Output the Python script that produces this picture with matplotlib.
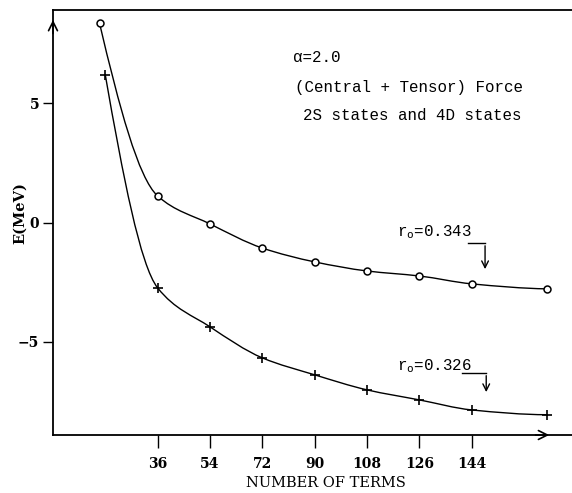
import numpy as np
import matplotlib
matplotlib.use("Agg")
import matplotlib.pyplot as plt
from matplotlib.path import Path
from matplotlib.patches import PathPatch

# data
terms_343 = [16, 36, 54, 72, 90, 108, 126, 144, 170]
energy_343 = [8.35, 1.11, -0.06, -1.07, -1.65, -2.03, -2.24, -2.57, -2.78]
terms_326 = [18, 36, 54, 72, 90, 108, 126, 144, 170]
energy_326 = [6.17, -2.74, -4.37, -5.67, -6.38, -7.01, -7.43, -7.85, -8.05]
xticks = [36, 54, 72, 90, 108, 126, 144]
yticks = [-5, 0, 5]

mono = "Liberation Mono"
serif = "DejaVu Serif"


def smooth_curve(x, y):
    # monotone cubic (pchip-like) drawn as bezier segments through the points
    x = np.asarray(x, float)
    y = np.asarray(y, float)
    h = np.diff(x)
    d = np.diff(y) / h
    n = len(x)
    m = np.zeros(n)
    for k in range(1, n - 1):
        if d[k - 1] * d[k] > 0:
            w1 = 2 * h[k] + h[k - 1]
            w2 = h[k] + 2 * h[k - 1]
            m[k] = (w1 + w2) / (w1 / d[k - 1] + w2 / d[k])
    m[0] = ((2 * h[0] + h[1]) * d[0] - h[0] * d[1]) / (h[0] + h[1])
    if np.sign(m[0]) != np.sign(d[0]):
        m[0] = 0
    m[-1] = ((2 * h[-1] + h[-2]) * d[-1] - h[-1] * d[-2]) / (h[-1] + h[-2])
    if np.sign(m[-1]) != np.sign(d[-1]):
        m[-1] = 0
    verts = [(x[0], y[0])]
    codes = [Path.MOVETO]
    for k in range(n - 1):
        verts += [(x[k] + h[k] / 3, y[k] + m[k] * h[k] / 3),
                  (x[k + 1] - h[k] / 3, y[k + 1] - m[k + 1] * h[k] / 3),
                  (x[k + 1], y[k + 1])]
        codes += [Path.CURVE4] * 3
    return Path(verts, codes)


fig = plt.figure(figsize=(5.72, 4.93), dpi=100)
ax = fig.add_axes([53 / 572, 58 / 493, 519 / 572, 425 / 493])
ax.set_xlim(0, 178.5)
ax.set_ylim(-8.9, 8.9)

ax.add_patch(PathPatch(smooth_curve(terms_343, energy_343), fill=False, lw=1.0, color="black"))
ax.add_patch(PathPatch(smooth_curve(terms_326, energy_326), fill=False, lw=1.0, color="black"))
ax.plot(terms_343, energy_343, linestyle="none", marker="o", ms=5, mfc="white", mec="black", mew=1.1)
ax.plot(terms_326, energy_326, linestyle="none", marker="+", ms=7, mec="black", mew=1.2)

ax.spines["right"].set_visible(False)
for s in ["left", "bottom", "top"]:
    ax.spines[s].set_linewidth(1.3)

ax.set_xticks(xticks)
ax.set_xticklabels([str(t) for t in xticks], family=serif, fontsize=10, fontweight="bold")
ax.set_yticks(yticks)
ax.set_yticklabels(["\u2212" + "5", "0", "5"], family=serif, fontsize=10, fontweight="bold")
ax.tick_params(axis="x", direction="out", length=9, width=1, pad=7)
ax.tick_params(axis="y", direction="out", length=7, width=1, pad=3)

# axis arrows
ax.annotate("", xy=(0, 8.6), xytext=(0, 7.8), arrowprops=dict(arrowstyle="->", lw=1.2, mutation_scale=16), annotation_clip=False)
ax.annotate("", xy=(171.6, -8.9), xytext=(165, -8.9), arrowprops=dict(arrowstyle="->", lw=1.2, mutation_scale=16), annotation_clip=False)

fig.text(20 / 572, 1 - 213 / 493, "E(MeV)", rotation=90, ha="center", va="center",
         family=serif, fontsize=10.5, fontweight="bold")
fig.text(326 / 572, 1 - 483 / 493, "NUMBER OF TERMS", ha="center", va="center",
         family=serif, fontsize=10.5)

ax.text(82.6, 6.92, "\u03b1=2.0", family=mono, fontsize=11.4, ha="left", va="center")
ax.text(83.2, 5.67, "(Central + Tensor) Force", family=mono, fontsize=11.4, ha="left", va="center")
ax.text(86, 4.50, "2S states and 4D states", family=mono, fontsize=11.4, ha="left", va="center")

# r_o labels with bracket arrows
ax.text(118.3, -0.40, r"r$_{\mathtt{o}}$=0.343", family=mono, fontsize=11.4, ha="left", va="center")
ax.plot([142.8, 148.6], [-0.86, -0.86], color="black", lw=1)
ax.annotate("", xy=(148.6, -2.07), xytext=(148.6, -0.86), arrowprops=dict(arrowstyle="->", lw=1, mutation_scale=12))

ax.text(118.3, -6.0, r"r$_{\mathtt{o}}$=0.326", family=mono, fontsize=11.4, ha="left", va="center")
ax.plot([140.7, 149.0], [-6.30, -6.30], color="black", lw=1)
ax.annotate("", xy=(149.0, -7.22), xytext=(149.0, -6.30), arrowprops=dict(arrowstyle="->", lw=1, mutation_scale=12))

fig.savefig("out.png", dpi=100)
